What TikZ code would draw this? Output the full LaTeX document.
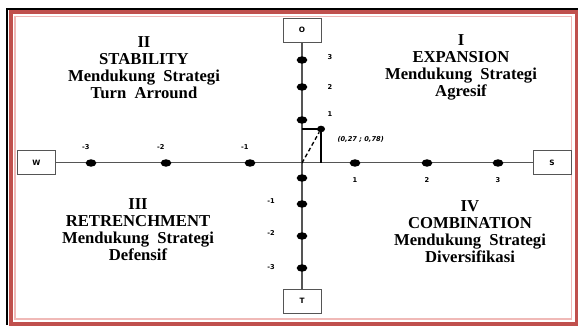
\documentclass[tikz,border=0pt]{standalone}
\usepackage{fontspec}
\setmainfont{Liberation Serif}
\newfontfamily\numfont{DejaVu Sans}
\usetikzlibrary{shapes,shapes.geometric,calc,positioning}
\definecolor{framered}{RGB}{192,80,77}
\definecolor{framepink}{RGB}{240,185,183}
\definecolor{axisgray}{RGB}{85,85,85}
\tikzset{pole/.style={draw=axisgray,rectangle,minimum width=28.5pt,minimum height=18pt,inner sep=0pt,font=\numfont\bfseries\fontsize{5.5}{6}\selectfont}}
\tikzset{dot/.style={fill=black,ellipse,inner sep=0pt,minimum width=8pt,minimum height=5.6pt}}
\tikzset{num/.style={font=\numfont\bfseries\fontsize{5}{6}\selectfont,inner sep=0pt}}
\tikzset{quad/.style={align=center,font=\bfseries\fontsize{12.5}{12.75}\selectfont,inner sep=0pt}}

\begin{document}
\begin{tikzpicture}[x=0.75pt,y=-0.75pt, node distance=8pt]
\useasboundingbox (0,0) rectangle (578,325);
\draw[line width=1.5pt] (7,325) -- (7,9) -- (578,9);
\draw[framered,line width=3pt] (10.5,12) rectangle (576.5,323.5);
\draw[framepink,line width=1.1pt] (15,16.5) rectangle (571.5,319);
\node[pole] (O) at (302,30) {O};
\node[pole] (T) at (302,301) {T};
\node[pole] (W) at (36.5,162.5) {W};
\node[pole] (S) at (552,162.5) {S};
\draw[axisgray,line width=0.8pt] (W) -- (S)
	(O) -- (T);
\node[dot] (h1) at (91,163) {};
\node[dot] (h2) at (166,163) {};
\node[dot] (h3) at (250,163) {};
\node[dot] (h4) at (355,163) {};
\node[dot] (h5) at (427,163) {};
\node[dot] (h6) at (498,163) {};
\node[dot] (v1) at (302,60) {};
\node[dot] (v2) at (302,87) {};
\node[dot] (v3) at (302,120) {};
\node[dot] (v4) at (302,178) {};
\node[dot] (v5) at (302,204) {};
\node[dot] (v6) at (302,236) {};
\node[dot] (v7) at (302,268) {};
\node[num, above left=8pt and -2pt of h1] {-3};
\node[num, above left=8pt and -2pt of h2] {-2};
\node[num, above left=8pt and -2pt of h3] {-1};
\node[num, below=8pt of h4] {1};
\node[num, below=8pt of h5] {2};
\node[num, below=8pt of h6] {3};
\node[num] at (330,57) {3};
\node[num] at (330,87) {2};
\node[num] at (330,114) {1};
\node[num] at (271,201) {-1};
\node[num] at (271,233) {-2};
\node[num] at (271,267) {-3};
\coordinate (Or) at (302,163);
\coordinate (Px) at (321,163);
\coordinate (Py) at (302,129);
\node[dot, minimum width=6pt, minimum height=5pt] (P) at (321,129) {};
\draw[line width=1.3pt] (Py) -- (P.center);
\draw[line width=1.7pt] (P.center) -- (Px);
\draw[line width=1pt, dash pattern=on 3pt off 2pt] (Or) -- (P);
\node[num, font=\numfont\itshape\bfseries\fontsize{5}{6}\selectfont, right=9pt of P, yshift=-8pt] {(0,27 ; 0,78)};
\node[quad] (q2) at (144,67.5) {II\\STABILITY\\Mendukung~~Strategi\\Turn~~Arround};
\node[quad] (q1) at (461,67.5) {I\\EXPANSION\\Mendukung~~Strategi\\Agresif};
\node[quad] (q3) at (138,230) {III\\RETRENCHMENT\\Mendukung~~Strategi\\Defensif};
\node[quad] (q4) at (470,232) {IV\\COMBINATION\\Mendukung~~Strategi\\Diversifikasi};
\end{tikzpicture}
\end{document}
